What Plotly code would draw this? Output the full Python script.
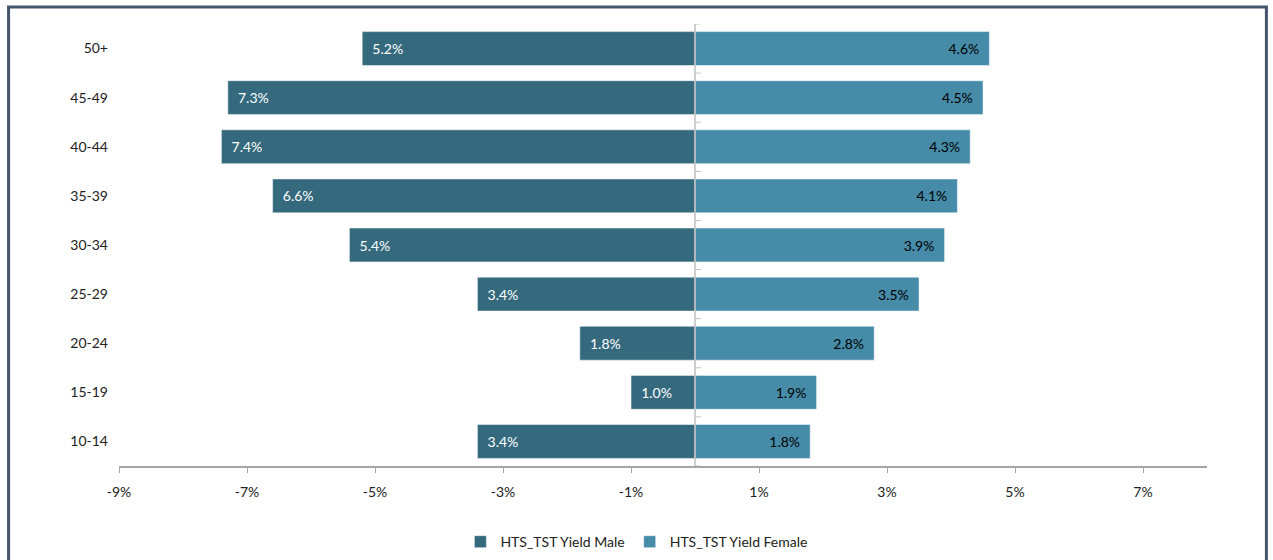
import plotly.graph_objects as go

categories = ["10-14", "15-19", "20-24", "25-29", "30-34", "35-39", "40-44", "45-49", "50+"]
male = [3.4, 1.0, 1.8, 3.4, 5.4, 6.6, 7.4, 7.3, 5.2]
female = [1.8, 1.9, 2.8, 3.5, 3.9, 4.1, 4.3, 4.5, 4.6]
tick_vals = [-9, -7, -5, -3, -1, 1, 3, 5, 7]
tick_text = ["-9%", "-7%", "-5%", "-3%", "-1%", "1%", "3%", "5%", "7%"]

FONT = "Lato, Calibri, Carlito, sans-serif"

fig = go.Figure()
fig.add_trace(go.Bar(
    y=categories, x=[-v for v in male], orientation="h",
    name="HTS_TST Yield Male",
    marker=dict(color="#35697d", line=dict(color="#ffffff", width=0.5)),
    text=[f"  {v:.1f}%" for v in male], textposition="inside", insidetextanchor="end",
    textfont=dict(color="white", size=14, family=FONT),
))
fig.add_trace(go.Bar(
    y=categories, x=female, orientation="h",
    name="HTS_TST Yield Female",
    marker=dict(color="#468ba8", line=dict(color="#ffffff", width=0.5)),
    text=[f"{v:.1f}%  " for v in female], textposition="inside", insidetextanchor="end",
    textfont=dict(color="black", size=14, family=FONT),
))

shapes = [
    dict(type="line", xref="x", yref="y", x0=0, x1=0, y0=-0.5, y1=len(categories) - 0.5,
         line=dict(color="#bfbfbf", width=1.5), layer="above"),
]
for k in range(len(categories) + 1):
    shapes.append(dict(type="line", xref="x", yref="y", x0=0, x1=0.09, y0=k - 0.5, y1=k - 0.5,
                       line=dict(color="#bfbfbf", width=1), layer="above"))
shapes.append(dict(type="rect", xref="paper", yref="paper",
                   x0=-0.1015, x1=1.0546, y0=-0.35, y1=1.0385,
                   line=dict(color="#44546a", width=3), fillcolor="rgba(0,0,0,0)"))

fig.update_layout(
    width=1273, height=560,
    margin=dict(l=119, r=66, t=24, b=94, autoexpand=False),
    paper_bgcolor="white", plot_bgcolor="white",
    barmode="relative", bargap=0.31,
    font=dict(family=FONT, size=14, color="#222222"),
    shapes=shapes,
    showlegend=True,
    legend=dict(orientation="h", x=0.476, xanchor="center", yref="container", y=0.032,
                yanchor="middle", font=dict(size=14, color="#222222"), itemwidth=30,
                traceorder="normal"),
    uniformtext=dict(minsize=10, mode="show"),
)
fig.update_xaxes(range=[-9, 8], tickvals=tick_vals, ticktext=tick_text,
                 showgrid=False, zeroline=False, showline=True, linecolor="#a6a6a6", linewidth=1.5,
                 ticks="outside", ticklen=5, tickcolor="#a6a6a6", tickfont=dict(size=14),
                 ticklabelstandoff=7)
fig.update_yaxes(showgrid=False, zeroline=False, showline=False, ticks="",
                 ticklabelstandoff=10, tickfont=dict(size=14), categoryorder="array",
                 categoryarray=categories, range=[-0.5, len(categories) - 0.5])

fig.write_html("out.html")
